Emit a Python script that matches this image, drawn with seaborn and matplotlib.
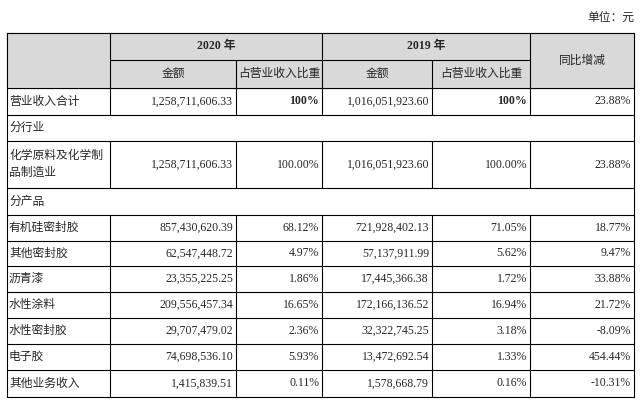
import matplotlib
matplotlib.use("Agg")
import matplotlib.pyplot as plt
import seaborn as sns

sns.set_theme(style="white")
plt.rcParams["font.family"] = ["Liberation Serif", "Noto Sans CJK SC"]

unit_label = "单位：元"
years = ["2020 年", "2019 年"]
sub_headers = ["金额", "占营业收入比重", "金额", "占营业收入比重"]
yoy_header = "同比增减"
total_row = ["营业收入合计", "1,258,711,606.33", "100%", "1,016,051,923.60", "100%", "23.88%"]
section_industry = "分行业"
industry_row = ["化学原料及化学制\n品制造业", "1,258,711,606.33", "100.00%", "1,016,051,923.60", "100.00%", "23.88%"]
section_product = "分产品"
products = ["有机硅密封胶", "其他密封胶", "沥青漆", "水性涂料", "水性密封胶", "电子胶", "其他业务收入"]
amt_2020 = ["857,430,620.39", "62,547,448.72", "23,355,225.25", "209,556,457.34", "29,707,479.02", "74,698,536.10", "1,415,839.51"]
pct_2020 = ["68.12%", "4.97%", "1.86%", "16.65%", "2.36%", "5.93%", "0.11%"]
amt_2019 = ["721,928,402.13", "57,137,911.99", "17,445,366.38", "172,166,136.52", "32,322,745.25", "13,472,692.54", "1,578,668.79"]
pct_2019 = ["71.05%", "5.62%", "1.72%", "16.94%", "3.18%", "1.33%", "0.16%"]
yoy = ["18.77%", "9.47%", "33.88%", "21.72%", "-8.09%", "454.44%", "-10.31%"]

fig = plt.figure(figsize=(6.4, 4.01), dpi=100)
ax = fig.add_axes([0, 0, 1, 1])
ax.set_xlim(0, 640); ax.set_ylim(401, 0); ax.axis("off")

cols = [7, 110, 236, 322, 432, 530, 634]
rows = [33, 60, 88, 115, 141, 188, 215, 241, 266, 292, 318, 344, 370, 397]
gray = "#d9d9d9"
fs = 8.5

ax.text(634, 18, unit_label, ha="right", va="center", fontsize=fs)
ax.add_patch(plt.Rectangle((cols[0], rows[0]), cols[-1]-cols[0], rows[2]-rows[0], color=gray, zorder=0))

def hl(y, x0, x1): ax.plot([x0, x1], [y, y], color="black", lw=0.8)
def vl(x, y0, y1): ax.plot([x, x], [y0, y1], color="black", lw=0.8)

hl(rows[0], cols[0], cols[-1])
hl(rows[1], cols[1], cols[5])
for y in rows[2:]:
    hl(y, cols[0], cols[-1])
vl(cols[0], rows[0], rows[-1]); vl(cols[-1], rows[0], rows[-1])
segments_outer = [(0, 3), (4, 5), (6, len(rows)-1)]
segments_inner = [(1, 3), (4, 5), (6, len(rows)-1)]
for x in [cols[1], cols[3], cols[5]]:
    for a, b in segments_outer:
        vl(x, rows[a], rows[b])
for x in [cols[2], cols[4]]:
    for a, b in segments_inner:
        vl(x, rows[a], rows[b])

ax.text((cols[1]+cols[3])/2, (rows[0]+rows[1])/2, years[0], ha="center", va="center", fontsize=fs, fontweight="bold")
ax.text((cols[3]+cols[5])/2, (rows[0]+rows[1])/2, years[1], ha="center", va="center", fontsize=fs, fontweight="bold")
for i, h in enumerate(sub_headers):
    ax.text((cols[i+1]+cols[i+2])/2, (rows[1]+rows[2])/2, h, ha="center", va="center", fontsize=fs)
ax.text((cols[5]+cols[6])/2, (rows[0]+rows[2])/2, yoy_header, ha="center", va="center", fontsize=fs)

def data_row(vals, y0, y1, bold_pct=False):
    yc = (y0+y1)/2
    ax.text(cols[0]+2, yc, vals[0], ha="left", va="center", fontsize=fs, linespacing=1.6)
    for j in range(1, 6):
        w = "bold" if (bold_pct and j in (2, 4)) else "normal"
        ax.text(cols[j+1]-3, yc, vals[j], ha="right", va="center", fontsize=fs, fontweight=w)

data_row(total_row, rows[2], rows[3], bold_pct=True)
ax.text(cols[0]+2, (rows[3]+rows[4])/2, section_industry, ha="left", va="center", fontsize=fs)
data_row(industry_row, rows[4], rows[5])
ax.text(cols[0]+2, (rows[5]+rows[6])/2, section_product, ha="left", va="center", fontsize=fs)
for k in range(len(products)):
    data_row([products[k], amt_2020[k], pct_2020[k], amt_2019[k], pct_2019[k], yoy[k]], rows[6+k], rows[7+k])

fig.savefig("out.png", dpi=100)
